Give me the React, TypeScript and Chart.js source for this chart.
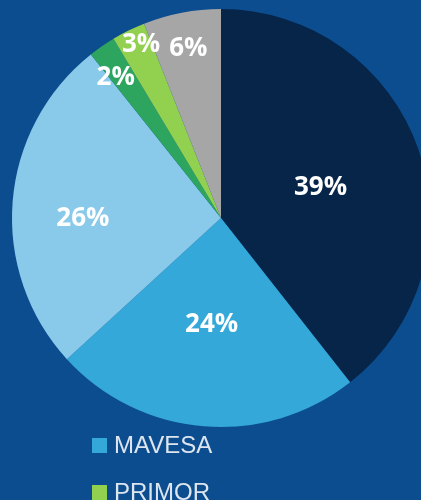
import React, { useEffect, useRef } from "react";
import { Chart, registerables } from "chart.js";

Chart.register(...registerables);

const categories = ["", "MAVESA", "", "", "PRIMOR", ""];
const shares = [39.4, 23.8, 26.1, 2.1, 2.6, 6.0];
const sliceColors = ["#062548", "#34a8d8", "#89c9ea", "#2ea55f", "#92d050", "#a6a6a6"];
const labelRadiusFrac = [0.5, 0.504, 0.661, 0.846, 0.923, 0.834];
const labelAngleShiftDeg = [1.3, 0.4, -4.1, -1.8, 1.8, 0];
const legendOrder = [1, 4];

const BG = "#0c4d8f";
const LABEL_SIZE = 26;

const labelPlugin = {
  id: "pctLabels",
  afterDatasetsDraw(chart: any) {
    const ctx = chart.ctx;
    const meta = chart.getDatasetMeta(0);
    const data = chart.data.datasets[0].data as number[];
    const total = data.reduce((a, b) => a + b, 0);
    ctx.save();
    ctx.fillStyle = "#ffffff";
    ctx.font = `bold ${LABEL_SIZE}px 'Open Sans'`;
    ctx.textAlign = "center";
    ctx.textBaseline = "alphabetic";
    meta.data.forEach((arc: any, i: number) => {
      const p = arc.getProps(["x", "y", "startAngle", "endAngle", "outerRadius"], true);
      const mid = (p.startAngle + p.endAngle) / 2 + (labelAngleShiftDeg[i] * Math.PI) / 180;
      const r = p.outerRadius * labelRadiusFrac[i];
      const x = p.x + Math.cos(mid) * r;
      const y = p.y + Math.sin(mid) * r;
      ctx.fillText(Math.round((data[i] / total) * 100) + "%", x, y + LABEL_SIZE * 0.357);
    });
    ctx.restore();
  },
};

const legendPlugin = {
  id: "customLegend",
  afterDraw(chart: any) {
    const ctx = chart.ctx;
    const area = chart.chartArea;
    ctx.save();
    ctx.font = "24px 'Liberation Sans'";
    ctx.textBaseline = "alphabetic";
    ctx.textAlign = "left";
    legendOrder.forEach((idx, row) => {
      const top = area.bottom + 11 + row * 47;
      ctx.fillStyle = sliceColors[idx];
      ctx.fillRect(92, top, 15, 15);
      ctx.fillStyle = "#dde5ef";
      ctx.fillText(categories[idx], 114, top + 15);
    });
    ctx.restore();
  },
};

export default function App() {
  const ref = useRef<HTMLCanvasElement>(null);
  useEffect(() => {
    if (!ref.current) return;
    const chart = new Chart(ref.current, {
      type: "pie",
      data: {
        labels: categories,
        datasets: [
          {
            data: shares,
            backgroundColor: sliceColors,
            borderWidth: 0,
          },
        ],
      },
      options: {
        responsive: false,
        animation: false,
        layout: { padding: { top: 9, bottom: 73, left: 0, right: 0 } },
        plugins: {
          legend: { display: false },
          tooltip: { enabled: false },
        },
      },
      plugins: [labelPlugin, legendPlugin],
    });
    return () => chart.destroy();
  }, []);
  return (
    <div
      style={{
        position: "fixed",
        left: 0,
        top: 0,
        width: 421,
        height: 500,
        overflow: "hidden",
        background: BG,
      }}
    >
      <canvas ref={ref} width={442} height={500} style={{ width: 442, height: 500, display: "block" }} />
    </div>
  );
}
